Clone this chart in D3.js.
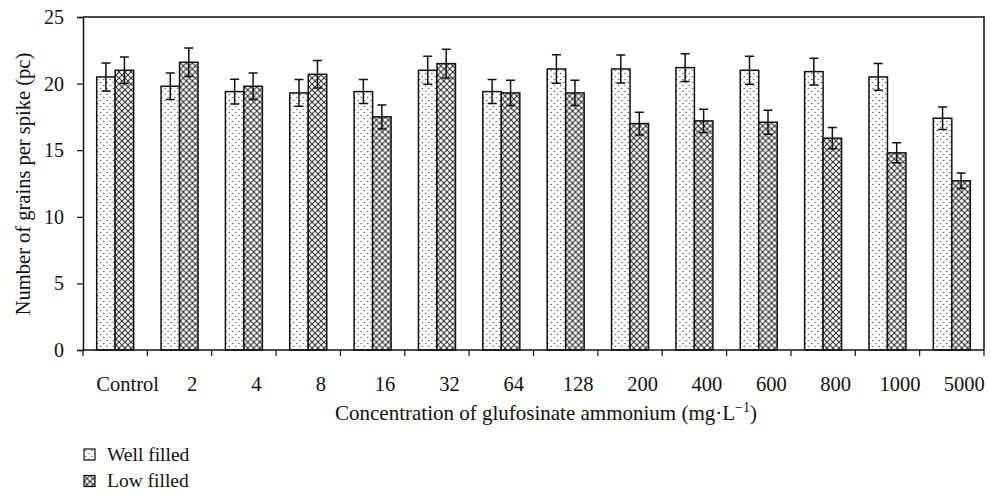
<!DOCTYPE html>
<html>
<head>
<meta charset="utf-8">
<script src="https://cdn.jsdelivr.net/npm/d3@7"></script>
<style>
  body { margin: 0; background: #fff; }
  svg text { font-family: "Liberation Serif", "DejaVu Serif", serif; fill: #111; }
</style>
</head>
<body>
<div id="viz"></div>
<script>
const categories = ['Control', '2', '4', '8', '16', '32', '64', '128', '200', '400', '600', '800', '1000', '5000'];
const wellFilled = [20.5, 19.8, 19.4, 19.3, 19.4, 21.0, 19.4, 21.1, 21.1, 21.2, 21.0, 20.9, 20.5, 17.4];
const wellErr = [1.05, 1.0, 0.93, 1.0, 0.9, 1.05, 0.9, 1.07, 1.05, 1.05, 1.05, 1.0, 1.0, 0.85];
const lowFilled = [21.0, 21.6, 19.8, 20.7, 17.5, 21.5, 19.3, 19.3, 17.0, 17.2, 17.1, 15.9, 14.8, 12.7];
const lowErr = [1.0, 1.07, 1.0, 1.03, 0.9, 1.08, 0.95, 0.95, 0.85, 0.88, 0.9, 0.8, 0.75, 0.58];
const yTicks = [0, 5, 10, 15, 20, 25];
const seriesNames = ['Well filled', 'Low filled'];

const width = 991, height = 494;
const plotLeft = 83, plotRight = 984, plotTop = 17, plotBottom = 350;

const svg = d3.select('#viz')
    .append('svg')
    .attr('width', width)
    .attr('height', height);

// patterns
const defs = svg.append('defs');
const dots = defs.append('pattern')
    .attr('id', 'dots')
    .attr('patternUnits', 'userSpaceOnUse')
    .attr('width', 6.4)
    .attr('height', 6);
dots.append('rect').attr('width', 6.4).attr('height', 6).attr('fill', '#fff');
dots.append('circle').attr('cx', 1.6).attr('cy', 1.5).attr('r', 0.75).attr('fill', '#555');
dots.append('circle').attr('cx', 4.8).attr('cy', 4.5).attr('r', 0.75).attr('fill', '#555');

const cross = defs.append('pattern')
    .attr('id', 'cross')
    .attr('patternUnits', 'userSpaceOnUse')
    .attr('width', 6)
    .attr('height', 6);
cross.append('rect').attr('width', 6).attr('height', 6).attr('fill', '#fff');
cross.append('path')
    .attr('d', 'M0,0L6,6M6,0L0,6')
    .attr('stroke', '#333')
    .attr('stroke-width', 1.1);

const fills = ['url(#dots)', 'url(#cross)'];

let x = d3.scaleBand()
    .domain(categories)
    .range([plotLeft, plotRight])
    .padding(0);

let x1 = d3.scaleBand()
    .domain([0, 1])
    .range([0, x.bandwidth()])
    .paddingInner(0)
    .paddingOuter(0.74);

let y = d3.scaleLinear()
    .domain([0, 25])
    .range([plotBottom, plotTop]);

// bars
const groups = svg.selectAll('g.cat')
    .data(categories)
    .enter()
    .append('g')
    .attr('class', 'cat')
    .attr('transform', d => `translate(${x(d)},0)`);

groups.each(function(d, i) {
    const g = d3.select(this);
    const vals = [wellFilled[i], lowFilled[i]];
    const errs = [wellErr[i], lowErr[i]];
    vals.forEach((v, s) => {
        g.append('rect')
            .attr('x', x1(s))
            .attr('y', y(v))
            .attr('width', x1.bandwidth())
            .attr('height', y(0) - y(v))
            .attr('fill', fills[s])
            .attr('stroke', '#111')
            .attr('stroke-width', 1.5);
    });
    vals.forEach((v, s) => {
        const cx = x1(s) + x1.bandwidth() / 2;
        const hi = y(v + errs[s]), lo = y(v - errs[s]);
        g.append('path')
            .attr('d', `M${cx},${hi}V${lo}M${cx - 4.5},${hi}H${cx + 4.5}M${cx - 4.5},${lo}H${cx + 4.5}`)
            .attr('stroke', '#111')
            .attr('stroke-width', 1.5)
            .attr('fill', 'none');
    });
});

// frame: top and right
svg.append('path')
    .attr('d', `M${plotLeft},${plotTop}H${plotRight}V${plotBottom}`)
    .attr('stroke', '#111')
    .attr('stroke-width', 1.5)
    .attr('fill', 'none');

// y axis
const yAxis = svg.append('g')
    .attr('transform', `translate(${plotLeft},0)`)
    .call(d3.axisLeft(y).tickValues(yTicks).tickSize(6).tickPadding(13));
yAxis.select('.domain').attr('stroke', '#111').attr('stroke-width', 1.5);
yAxis.selectAll('.tick line').attr('stroke', '#111').attr('stroke-width', 1.2);
yAxis.selectAll('.tick text')
    .style('font-family', '"Liberation Serif", serif')
    .style('font-size', '20px')
    .attr('fill', '#111');

// x axis: ticks at band edges
const xAxis = svg.append('g')
    .attr('transform', `translate(0,${plotBottom})`);
xAxis.append('line')
    .attr('x1', plotLeft).attr('x2', plotRight)
    .attr('stroke', '#111').attr('stroke-width', 1.5);
const edges = categories.map(c => x(c)).concat([plotRight]);
xAxis.selectAll('line.tk')
    .data(edges)
    .enter()
    .append('line')
    .attr('class', 'tk')
    .attr('x1', d => d).attr('x2', d => d)
    .attr('y1', 0).attr('y2', 6)
    .attr('stroke', '#111').attr('stroke-width', 1.2);
xAxis.selectAll('text')
    .data(categories)
    .enter()
    .append('text')
    .attr('x', d => x(d) + x.bandwidth() / 2 + 12.5)
    .attr('y', 41)
    .attr('text-anchor', 'middle')
    .style('font-size', '20.5px')
    .text(d => d);

// axis titles
const xTitle = svg.append('text')
    .attr('x', 546)
    .attr('y', 420)
    .attr('text-anchor', 'middle')
    .style('font-size', '21px');
xTitle.append('tspan').text('Concentration of glufosinate ammonium (mg·L');
xTitle.append('tspan').attr('dy', -8).style('font-size', '14px').text('−1');
xTitle.append('tspan').attr('dy', 8).text(')');

svg.append('text')
    .attr('transform', `translate(30,${184}) rotate(-90)`)
    .attr('text-anchor', 'middle')
    .style('font-size', '20.5px')
    .text('Number of grains per spike (pc)');

// legend
const legend = svg.selectAll('g.leg')
    .data(seriesNames)
    .enter()
    .append('g')
    .attr('class', 'leg')
    .attr('transform', (d, i) => `translate(84,${449 + i * 26.5})`);
legend.append('rect')
    .attr('width', 11)
    .attr('height', 11)
    .attr('fill', (d, i) => fills[i])
    .attr('stroke', '#111')
    .attr('stroke-width', 1.2);
legend.append('text')
    .attr('x', 23)
    .attr('y', 11.5)
    .style('font-size', '19.5px')
    .text(d => d);
</script>
</body>
</html>
